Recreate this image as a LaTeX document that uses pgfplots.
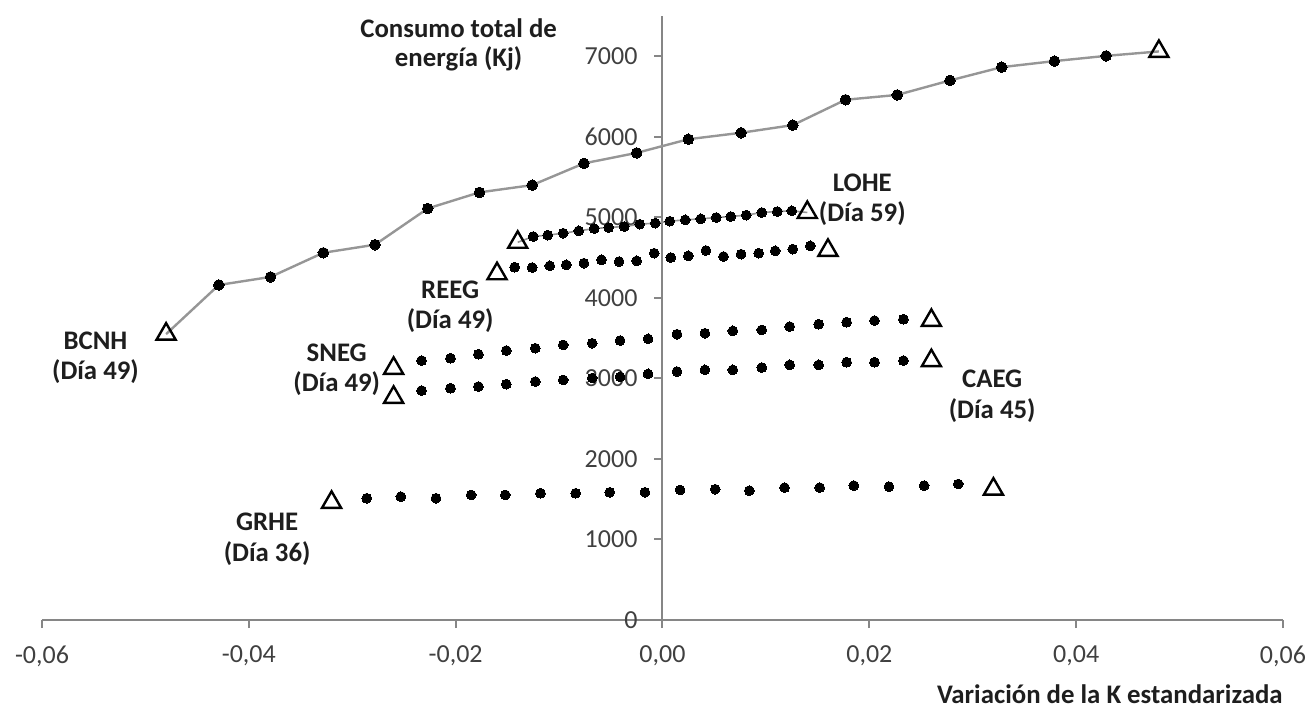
\documentclass[border=0pt]{standalone}
\usepackage{pgfplots}
\pgfplotsset{compat=1.18}
\usepackage{pgfplotstable}
\usepackage{fontspec}
\setmainfont{Carlito}
\definecolor{axisgray}{RGB}{134,134,134}
\definecolor{linegray}{RGB}{150,150,150}
\definecolor{tickcol}{RGB}{64,64,64}
\definecolor{labcol}{RGB}{30,30,30}
\tikzset{labstyle/.style={anchor=base, inner sep=0pt, text=labcol, font=\bfseries\fontsize{13.4}{15}\selectfont}}
\pgfplotsset{
  dotstyle/.style={only marks, mark=*, mark size=2.45pt, mark options={fill=black, draw=black, line width=0pt}},
  tristyle/.style={only marks, mark=triangle, mark size=5.5pt, mark options={draw=black, fill=white, line width=1.2pt}},
}

% BCNH
\pgfplotstableread{
x y
-0.0480 3550
-0.0429 4160
-0.0379 4260
-0.0328 4560
-0.0278 4660
-0.0227 5110
-0.0177 5310
-0.0126 5400
-0.0076 5670
-0.0025 5800
0.0025 5970
0.0076 6050
0.0126 6145
0.0177 6460
0.0227 6520
0.0278 6700
0.0328 6865
0.0379 6940
0.0429 7005
0.0480 7060
}\bcnh
% LOHE
\pgfplotstableread{
x y
-0.0140 4690
-0.0125 4762
-0.0111 4779
-0.0096 4803
-0.0081 4832
-0.0066 4861
-0.0052 4874
-0.0037 4886
-0.0022 4915
-0.0007 4928
0.0007 4952
0.0022 4969
0.0037 4981
0.0052 4998
0.0066 5010
0.0081 5027
0.0096 5060
0.0111 5072
0.0125 5081
0.0140 5060
}\lohe
% REEG
\pgfplotstableread{
x y
-0.0160 4300
-0.0143 4381
-0.0126 4377
-0.0109 4398
-0.0093 4410
-0.0076 4431
-0.0059 4472
-0.0042 4451
-0.0025 4460
-0.0008 4555
0.0008 4501
0.0025 4522
0.0042 4588
0.0059 4514
0.0076 4543
0.0093 4555
0.0109 4584
0.0126 4605
0.0143 4646
0.0160 4590
}\reeg
% SNEG
\pgfplotstableread{
x y
-0.0260 3125
-0.0233 3221
-0.0205 3250
-0.0178 3300
-0.0151 3346
-0.0123 3375
-0.0096 3416
-0.0068 3437
-0.0041 3470
-0.0014 3491
0.0014 3549
0.0041 3561
0.0068 3590
0.0096 3602
0.0123 3644
0.0151 3673
0.0178 3698
0.0205 3718
0.0233 3735
0.0260 3720
}\sneg
% CAEG
\pgfplotstableread{
x y
-0.0260 2765
-0.0233 2849
-0.0205 2878
-0.0178 2899
-0.0151 2928
-0.0123 2961
-0.0096 2981
-0.0068 3005
-0.0041 3020
-0.0014 3056
0.0014 3085
0.0041 3106
0.0068 3106
0.0096 3135
0.0123 3168
0.0151 3168
0.0178 3201
0.0205 3201
0.0233 3221
0.0260 3220
}\caeg
% GRHE
\pgfplotstableread{
x y
-0.0320 1461
-0.0286 1512
-0.0253 1532
-0.0219 1512
-0.0185 1553
-0.0152 1553
-0.0118 1574
-0.0084 1574
-0.0051 1586
-0.0017 1586
0.0017 1615
0.0051 1624
0.0084 1606
0.0118 1644
0.0152 1644
0.0185 1669
0.0219 1656
0.0253 1669
0.0286 1689
0.0320 1625
}\grhe

\begin{document}
\begin{tikzpicture}
\path[use as bounding box] (0,0) rectangle (655pt,353.5pt);
\begin{axis}[
  at={(21pt,43.5pt)}, anchor=south west,
  scale only axis, width=620.5pt, height=302pt,
  xmin=-0.06, xmax=0.06, ymin=0, ymax=7500,
  axis x line=bottom, axis y line=center,
  axis line style={-, draw=axisgray, line width=1pt},
  xtick={-0.06,-0.04,-0.02,0,0.02,0.04,0.06},
  ytick={0,1000,2000,3000,4000,5000,6000,7000},
  tick align=outside, major tick length=4pt,
  tick style={axisgray, line width=1pt},
  hide obscured x ticks=false, hide obscured y ticks=false,
  scaled x ticks=false, scaled y ticks=false,
  /pgf/number format/assume math mode=true,
  /pgf/number format/1000 sep={},
  xticklabel style={yshift=-5.5pt, /pgf/number format/.cd, fixed, fixed zerofill, precision=2, use comma},
  yticklabel style={xshift=-5pt},
  ticklabel style={font=\fontsize{13}{15}\selectfont, text=tickcol},
  clip=false,
]
% lines
\addplot[linegray, line width=1.2pt, no marks] table {\bcnh};
\addplot[linegray, line width=0.8pt, no marks] table {\lohe};
% dots
\addplot[dotstyle, mark size=2.65pt] table[skip coords between index={0}{1}, skip coords between index={19}{20}] {\bcnh};
\addplot[dotstyle] table[skip coords between index={0}{1}, skip coords between index={19}{20}] {\lohe};
\addplot[dotstyle] table[skip coords between index={0}{1}, skip coords between index={19}{20}] {\reeg};
\addplot[dotstyle] table[skip coords between index={0}{1}, skip coords between index={19}{20}] {\sneg};
\addplot[dotstyle] table[skip coords between index={0}{1}, skip coords between index={19}{20}] {\caeg};
\addplot[dotstyle] table[skip coords between index={0}{1}, skip coords between index={19}{20}] {\grhe};
% triangles
\addplot[tristyle] table[skip coords between index={1}{19}] {\bcnh};
\addplot[tristyle] table[skip coords between index={1}{19}] {\lohe};
\addplot[tristyle] table[skip coords between index={1}{19}] {\reeg};
\addplot[tristyle] table[skip coords between index={1}{19}] {\sneg};
\addplot[tristyle] table[skip coords between index={1}{19}] {\caeg};
\addplot[tristyle] table[skip coords between index={1}{19}] {\grhe};
% labels
\node[labstyle] at (axis cs:-0.01971,7230) {Consumo total de};
\node[labstyle] at (axis cs:-0.01971,6870) {energía (Kj)};
\node[labstyle] at (axis cs:0.01932,5321) {LOHE};
\node[labstyle] at (axis cs:0.01932,4948) {(Día 59)};
\node[labstyle] at (axis cs:-0.02053,3996) {REEG};
\node[labstyle] at (axis cs:-0.02053,3624) {(Día 49)};
\node[labstyle] at (axis cs:-0.0315,3209) {SNEG};
\node[labstyle] at (axis cs:-0.0315,2836) {(Día 49)};
\node[labstyle] at (axis cs:-0.05483,3354) {BCNH};
\node[labstyle] at (axis cs:-0.05483,2981) {(Día 49)};
\node[labstyle] at (axis cs:0.03188,2886) {CAEG};
\node[labstyle] at (axis cs:0.03188,2506) {(Día 45)};
\node[labstyle] at (axis cs:-0.03823,1109) {GRHE};
\node[labstyle] at (axis cs:-0.03823,724) {(Día 36)};
\node[anchor=north east, inner sep=0pt, text=labcol, font=\bfseries\fontsize{13.4}{15}\selectfont, yshift=-32pt] at (rel axis cs:1,0) {Variación de la K estandarizada};
\end{axis}
\end{tikzpicture}
\end{document}
